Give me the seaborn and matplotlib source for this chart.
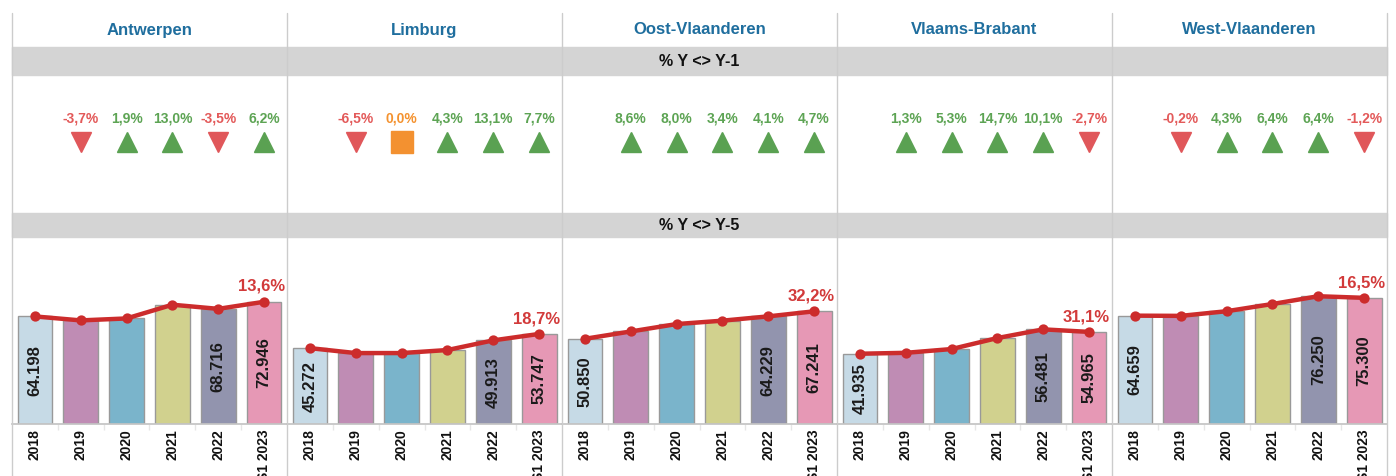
import numpy as np
import pandas as pd
import matplotlib.pyplot as plt
import seaborn as sns
from matplotlib.patches import Rectangle
from matplotlib.lines import Line2D

sns.set_theme(style='white')
plt.rcParams['font.family'] = ['Liberation Sans', 'DejaVu Sans']

provinces = ['Antwerpen', 'Limburg', 'Oost-Vlaanderen', 'Vlaams-Brabant', 'West-Vlaanderen']
years = ['2018', '2019', '2020', '2021', '2022', 'S1 2023']

# yearly values per province (unlabelled years)
antwerpen = [64198, 61823, 62998, 71188, 68716, 72946]
limburg = [45272, 42329, 42329, 44149, 49913, 53747]
oost_vl = [50850, 55223, 59641, 61669, 64229, 67241]
vl_brabant = [41935, 42480, 44731, 51307, 56481, 54965]
west_vl = [64659, 64530, 67305, 71612, 76250, 75300]

# % Y <> Y-1 for 2019 .. S1 2023
antwerpen_yoy = [-3.7, 1.9, 13.0, -3.5, 6.2]
limburg_yoy = [-6.5, 0.0, 4.3, 13.1, 7.7]
oost_vl_yoy = [8.6, 8.0, 3.4, 4.1, 4.7]
vl_brabant_yoy = [1.3, 5.3, 14.7, 10.1, -2.7]
west_vl_yoy = [-0.2, 4.3, 6.4, 6.4, -1.2]

# % Y <> Y-5
y5 = [13.6, 18.7, 32.2, 31.1, 16.5]

values = [antwerpen, limburg, oost_vl, vl_brabant, west_vl]
yoys = [antwerpen_yoy, limburg_yoy, oost_vl_yoy, vl_brabant_yoy, west_vl_yoy]

palette = {'2018': '#c6dae6', '2019': '#bf8cb4', '2020': '#7ab4cb',
           '2021': '#d1d18e', '2022': '#9294ae', 'S1 2023': '#e698b5'}

W, H = 1396, 476
fig = plt.figure(figsize=(W / 100, H / 100), dpi=100)


def rect(x0, y0, x1, y1):
    return [x0 / W, 1 - y1 / H, (x1 - x0) / W, (y1 - y0) / H]


def pct(v):
    return f'{v:.1f}%'.replace('.', ',')


left, pw = 12, 275
grey = '#d4d4d4'
sep = '#cccccc'

# grey bands
for y0, y1, lab in [(47, 75, '% Y <> Y-1'), (213, 237, '% Y <> Y-5')]:
    fig.add_artist(Rectangle((left / W, 1 - y1 / H), 5 * pw / W, (y1 - y0) / H,
                             transform=fig.transFigure, color=grey, zorder=0))
    fig.text((left + 2.5 * pw) / W, 1 - (y0 + y1) / 2 / H, lab, ha='center', va='center',
             fontsize=11.5, fontweight='bold', color='#111111')

line_red = '#cc2c2c'

for i, name in enumerate(provinces):
    x0 = left + i * pw
    fig.text((x0 + pw / 2) / W, 1 - 30 / H, name, ha='center', va='center',
             fontsize=12, fontweight='bold', color='#1f6e9e')

    # Y-1 indicators
    axm = fig.add_axes(rect(x0, 75, x0 + pw, 213))
    axm.set_xlim(-0.5, 5.5)
    axm.set_ylim(0, 1)
    axm.axis('off')
    for k, v in enumerate(yoys[i]):
        if v > 0:
            mk, mc, tc, ms = '^', '#5aa152', '#5da454', 14.5
        elif v < 0:
            mk, mc, tc, ms = 'v', '#e0575a', '#e35a5a', 14.5
        else:
            mk, mc, tc, ms = 's', '#f39130', '#f4922f', 15.5
        axm.plot(k + 1, 0.514, marker=mk, ms=ms, color=mc, mec=mc)
        axm.text(k + 1, 0.688, pct(v), ha='center', va='center', fontsize=10,
                 fontweight='bold', color=tc)

    # bars + line
    ax = fig.add_axes(rect(x0, 237, x0 + pw, 424))
    df = pd.DataFrame({'year': years, 'value': values[i]})
    sns.barplot(data=df, x='year', y='value', hue='year', palette=palette, legend=False,
                saturation=1, width=0.76, edgecolor='#999999', linewidth=1, ax=ax)
    sns.pointplot(data=df, x='year', y='value', color=line_red, errorbar=None,
                  markersize=5, linewidth=3.2, ax=ax)
    for k in [0, 4, 5]:
        v = values[i][k]
        ax.text(k, v / 2, f'{v:,}'.replace(',', '.'), rotation=90, ha='center', va='center',
                fontsize=12, fontweight='bold', color='#1a1a1a', zorder=5)
    ax.annotate(pct(y5[i]), (5, values[i][5]), xytext=(-2, 11), textcoords='offset points',
                ha='center', va='center', fontsize=12, fontweight='bold', color='#d23a3a')
    ax.set_xlim(-0.5, 5.5)
    ax.set_ylim(0, 111600)
    ax.set_xlabel('')
    ax.set_ylabel('')
    ax.set_yticks([])
    ax.set_xticks(range(6))
    ax.set_xticklabels(years, rotation=90, fontweight='bold', fontsize=10, color='#111111')
    ax.set_xticks(np.arange(0.5, 5, 1), minor=True)
    ax.tick_params(axis='x', which='major', length=0, pad=4)
    ax.tick_params(axis='x', which='minor', bottom=True, length=4, color='#e6e6e6', width=1)
    for s in ['top', 'left', 'right']:
        ax.spines[s].set_visible(False)
    ax.spines['bottom'].set_color('#c4c4c4')
    ax.patch.set_alpha(0)

# separators
for i in range(6):
    x = (left + i * pw) / W
    fig.add_artist(Line2D([x, x], [1 - 13 / H, 0], transform=fig.transFigure,
                          color=sep, lw=1, zorder=10))

fig.savefig('out.png', dpi=100)
